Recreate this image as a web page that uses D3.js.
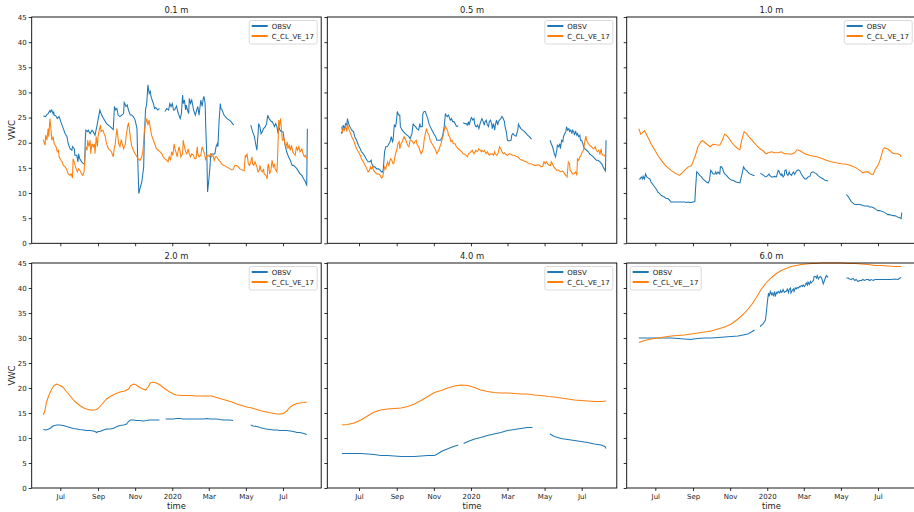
<!DOCTYPE html>
<meta charset="utf-8">
<script src="https://cdn.jsdelivr.net/npm/d3@7"></script>
<style>
  body { margin: 0; background: #fff; }
  svg { display: block; font-family: "DejaVu Sans", sans-serif; }
</style>
<div id="chart"></div>
<script>

// panel titles (depths) and legend labels
var depths = ["0.1 m", "0.5 m", "1.0 m", "2.0 m", "4.0 m", "6.0 m"];
var obsLabel = "OBSV";
var modelLabels = ["C_CL_VE_17", "C_CL_VE_17", "C_CL_VE_17", "C_CL_VE_17", "C_CL_VE_17", "C_CL_VE__17"];
var yTicks = [0, 5, 10, 15, 20, 25, 30, 35, 40, 45];

// series are [day since 2019-06-01, VWC]; null marks a gap in the record
var day0 = "2019-06-01";

var obs01 = [[2,25.3],[6,25.2],[8,25.6],[10,25.8],[13,26.4],[14,26.1],[16,26.5],[18,25.8],[19,26.2],[20,25.5],[23,25.3],[25,24.8],[28,25.2],[30,24.5],[32,23.8],[35,22.8],[38,21.8],[41,21.2],[43,19.8],[46,18.8],[49,18.5],[50,19.2],[53,18.8],[54,17.5],[57,17.5],[59,16.2],[60,17.8],[62,16.8],[65,16.2],[68,15.8],[70,15.8],[71,20.5],[72,22.5],[75,22.2],[76,22.5],[79,21.8],[82,22.5],[84,22.2],[87,21.5],[90,23.2],[93,25.2],[95,26.5],[98,25.5],[101,24.8],[106,23.8],[112,23.2],[117,22.6],[119,27.2],[121,26.5],[123,26.8],[125,25.5],[128,25.2],[131,25.5],[134,25.8],[135,28.0],[136,27.8],[138,27.2],[140,27.5],[142,26.5],[145,25.5],[147,25.5],[150,25.2],[153,24.5],[156,22.8],[157,17.8],[159,9.9],[161,10.9],[164,12.2],[167,15.2],[168,20.5],[170,26.5],[172,27.8],[174,31.5],[176,29.8],[178,30.2],[179,29.2],[181,28.5],[183,27.8],[185,26.8],[187,27.0],[190,26.5],[193,26.8],[197,null],[202,26.2],[205,26.8],[208,26.5],[210,27.8],[212,27.2],[214,27.8],[216,26.5],[218,26.5],[219,26.8],[221,27.3],[223,26.2],[225,25.5],[227,24.8],[229,25.8],[231,29.5],[232,27.8],[234,28.5],[236,26.5],[237,27.5],[239,26.5],[241,25.8],[242,28.8],[244,27.8],[246,28.5],[248,27.2],[249,26.5],[252,25.5],[254,26.5],[256,27.2],[258,25.5],[259,26.5],[261,28.5],[263,27.2],[265,28.8],[266,29.2],[268,27.8],[269,23.2],[271,16.5],[272,10.2],[274,12.5],[276,15.2],[277,17.2],[279,17.8],[282,17.7],[284,17.8],[286,19.2],[288,19.8],[289,19.2],[291,24.5],[293,27.8],[294,26.8],[296,26.5],[299,25.5],[304,24.8],[309,24.4],[315,23.5],[330,null],[343,23.5],[346,22.2],[349,21.2],[351,19.8],[353,18.5],[355,21.8],[356,23.8],[358,23.2],[360,21.8],[362,22.2],[364,22.8],[367,23.2],[369,23.8],[371,25.5],[373,24.8],[375,24.5],[377,24.2],[378,24.2],[380,23.8],[382,23.2],[384,23.8],[386,23.2],[388,21.8],[389,23.2],[391,22.5],[393,22.2],[396,22.2],[398,20.5],[400,19.2],[402,18.2],[405,17.2],[408,16.5],[411,15.5],[413,15.5],[416,15.2],[419,14.8],[422,14.2],[424,13.8],[427,13.5],[430,12.8],[433,12.2],[434,11.8],[435,11.6],[436,22.8]];
var mod01 = [[2,20.6],[5,19.5],[6,21.5],[8,20.5],[10,22.8],[11,21.2],[13,24.8],[15,22.2],[16,20.5],[18,21.2],[20,19.8],[23,19.2],[25,18.2],[27,18.5],[28,17.2],[31,16.5],[33,16.2],[35,15.5],[38,15.2],[40,14.8],[43,13.8],[46,13.5],[48,13.8],[50,13.0],[51,16.8],[52,16.5],[55,15.2],[57,14.5],[58,14.2],[60,14.8],[62,14.5],[65,13.8],[67,13.5],[69,14.2],[71,17.8],[72,19.2],[74,18.5],[75,20.5],[77,19.2],[79,20.5],[80,17.8],[82,19.8],[84,19.2],[86,19.8],[87,17.8],[89,21.2],[91,19.2],[92,21.2],[94,22.5],[96,23.5],[97,22.2],[100,22.5],[102,21.8],[104,21.2],[106,19.8],[109,18.8],[112,18.5],[114,18.2],[117,17.2],[119,19.2],[120,19.5],[123,22.8],[124,21.8],[126,19.8],[128,19.2],[130,20.5],[131,20.2],[134,18.8],[135,19.2],[137,19.7],[138,21.2],[141,23.5],[142,23.8],[143,23.2],[145,21.2],[147,19.5],[150,18.5],[153,17.8],[156,17.2],[158,16.8],[161,16.5],[164,17.2],[166,18.5],[168,22.2],[170,23.8],[172,24.8],[174,23.5],[176,24.5],[178,22.8],[180,21.5],[183,20.5],[186,19.5],[188,18.8],[191,18.5],[194,18.2],[197,17.8],[199,17.2],[202,16.8],[205,16.5],[207,16.2],[209,17.2],[211,16.5],[213,18.2],[215,17.5],[217,19.8],[219,18.5],[221,17.8],[222,17.2],[225,19.2],[227,18.2],[228,17.2],[231,17.8],[232,20.5],[234,19.2],[236,18.2],[238,17.8],[240,18.8],[242,17.8],[244,17.2],[246,17.8],[249,17.5],[251,16.8],[253,16.8],[255,19.2],[256,17.8],[258,17.2],[261,17.5],[263,19.2],[265,18.5],[267,17.8],[269,16.5],[270,17.2],[273,17.5],[275,17.2],[277,17.8],[279,17.2],[281,17.5],[283,16.5],[285,17.2],[287,17.2],[290,16.6],[293,16.2],[295,15.8],[298,15.5],[301,15.4],[303,15.2],[306,15.0],[309,14.8],[312,14.6],[314,14.7],[317,15.5],[320,15.4],[323,15.2],[325,14.8],[329,14.6],[332,14.4],[334,17.5],[335,17.2],[337,17.7],[339,15.8],[341,15.5],[343,16.2],[345,17.2],[346,15.8],[348,15.5],[350,16.2],[353,15.2],[355,14.2],[357,14.5],[358,15.5],[360,14.5],[362,14.2],[364,14.8],[365,13.8],[368,13.5],[370,12.8],[371,15.2],[372,15.8],[374,13.8],[376,14.5],[378,16.5],[380,15.2],[382,15.8],[383,14.8],[386,14.2],[387,16.8],[389,24.5],[390,23.2],[392,24.8],[394,21.8],[395,20.5],[398,20.8],[399,19.8],[401,19.2],[403,20.2],[404,18.8],[406,19.5],[408,18.5],[410,19.5],[412,18.2],[414,17.8],[416,17.5],[418,19.2],[420,18.5],[422,19.2],[424,18.2],[427,18.8],[429,17.8],[431,17.2],[433,17.5],[435,16.8]];

var obs05 = [[1,22.2],[2,21.8],[4,23.5],[6,22.8],[8,23.8],[10,23.5],[11,24.8],[13,23.8],[15,23.2],[18,22.5],[21,22.2],[23,21.2],[26,20.5],[29,19.5],[32,18.8],[34,18.2],[37,17.8],[40,17.2],[43,16.5],[45,16.2],[48,16.2],[50,16.5],[51,15.8],[54,15.2],[56,15.2],[59,14.8],[62,14.8],[65,14.5],[67,14.2],[69,14.2],[70,14.8],[72,18.2],[74,19.2],[76,19.2],[78,19.5],[81,20.2],[83,21.2],[85,20.2],[86,20.5],[88,23.5],[90,23.2],[91,23.8],[93,26.2],[95,25.5],[97,25.5],[98,23.2],[101,22.5],[103,22.2],[106,21.8],[109,21.5],[112,21.2],[114,20.8],[117,21.8],[119,23.8],[120,23.5],[123,23.2],[125,22.8],[128,22.5],[130,23.8],[131,23.2],[134,23.2],[135,25.8],[137,26.2],[139,26.2],[141,25.5],[143,24.8],[145,23.8],[147,23.2],[150,22.5],[153,21.8],[156,21.2],[158,20.5],[161,20.5],[164,20.5],[167,21.2],[168,21.8],[170,23.2],[172,25.8],[173,25.5],[175,25.2],[177,25.5],[178,25.2],[180,24.5],[182,24.8],[184,24.2],[186,24.2],[188,23.8],[190,23.3],[193,23.3],[197,null],[201,24.0],[204,23.8],[206,23.8],[208,23.5],[210,24.2],[211,23.5],[214,24.8],[215,25.0],[217,24.5],[219,24.8],[220,23.8],[222,23.2],[223,23.2],[225,23.5],[227,22.8],[229,23.8],[231,24.5],[232,24.8],[234,24.2],[236,23.5],[237,24.2],[239,24.5],[241,23.5],[243,23.2],[244,24.2],[246,24.5],[248,23.8],[249,22.8],[251,23.8],[253,22.5],[254,23.5],[256,24.5],[258,23.5],[259,24.2],[261,24.5],[263,24.8],[265,25.2],[267,24.8],[269,24.2],[270,23.2],[272,22.2],[274,20.5],[275,20.4],[278,20.4],[280,20.5],[281,21.5],[283,21.8],[285,21.5],[288,21.3],[291,22.5],[292,23.7],[294,23.2],[296,22.8],[299,22.5],[302,22.2],[305,21.8],[307,21.5],[310,21.2],[313,20.8],[314,20.8],[330,null],[344,20.5],[346,19.8],[348,19.2],[349,18.8],[351,17.8],[353,17.2],[355,18.5],[356,19.5],[358,19.2],[360,19.8],[361,18.8],[363,20.5],[365,20.2],[366,21.2],[368,21.8],[370,22.2],[371,23.2],[373,22.5],[375,22.8],[376,22.2],[378,22.5],[380,21.8],[381,22.5],[383,22.2],[384,21.5],[386,22.2],[388,21.5],[389,21.8],[391,21.2],[393,21.5],[394,20.5],[396,20.5],[398,19.8],[399,19.2],[401,18.8],[404,18.5],[407,18.2],[409,17.8],[412,17.5],[415,17.2],[418,16.8],[420,16.5],[423,16.5],[426,16.2],[429,15.8],[431,15.2],[433,14.8],[435,14.4],[436,20.5]];
var mod05 = [[1,23.2],[3,22.2],[5,22.8],[6,22.5],[8,23.2],[10,22.2],[11,23.8],[13,22.8],[15,22.2],[18,21.2],[21,20.5],[23,19.8],[26,18.8],[29,18.2],[32,17.5],[34,16.8],[37,16.2],[40,15.5],[43,14.8],[45,14.2],[47,14.5],[49,15.2],[50,14.8],[52,15.2],[54,14.5],[56,14.2],[59,13.8],[62,13.8],[65,13.5],[67,13.0],[69,13.2],[71,14.5],[72,15.2],[74,14.8],[76,15.8],[77,16.2],[79,15.5],[81,16.5],[82,16.8],[84,16.5],[86,15.8],[87,15.8],[89,17.2],[91,18.2],[92,18.5],[94,19.8],[96,20.2],[97,18.8],[99,19.8],[101,20.2],[102,20.5],[104,21.2],[107,20.5],[109,19.8],[110,19.5],[112,19.2],[114,20.5],[116,20.5],[118,20.2],[120,19.8],[122,20.2],[124,20.5],[125,19.8],[128,19.2],[130,18.5],[132,17.8],[134,18.2],[136,19.2],[137,20.5],[139,21.8],[141,22.8],[142,22.2],[145,21.5],[147,20.5],[150,19.8],[153,19.2],[156,18.5],[158,17.8],[161,18.5],[163,19.2],[165,19.8],[166,20.5],[168,21.2],[170,22.5],[172,23.3],[174,22.8],[176,22.2],[177,21.5],[179,21.2],[181,20.2],[183,20.5],[185,19.8],[188,19.8],[190,19.2],[193,18.8],[196,18.5],[199,18.2],[201,17.8],[204,17.7],[206,17.5],[208,17.2],[210,17.8],[212,18.0],[214,18.2],[216,18.5],[217,18.2],[219,17.8],[221,18.2],[222,18.5],[224,18.2],[226,18.5],[227,18.8],[229,18.5],[231,18.2],[232,18.5],[234,18.2],[236,18.5],[237,18.2],[239,17.8],[241,18.2],[243,17.7],[244,17.5],[246,17.8],[248,17.7],[249,17.8],[251,17.5],[253,18.2],[254,17.8],[256,17.5],[258,17.7],[259,18.2],[261,19.2],[263,18.8],[265,18.2],[267,17.8],[269,18.0],[271,17.7],[274,17.5],[277,17.8],[280,17.7],[282,17.5],[285,17.5],[288,17.3],[291,17.2],[294,16.8],[296,16.6],[299,16.5],[302,16.3],[305,16.2],[307,16.0],[310,15.8],[313,15.8],[316,15.6],[318,15.5],[321,15.5],[324,15.6],[327,15.5],[329,15.2],[332,15.3],[334,16.2],[336,15.8],[338,16.2],[340,15.8],[343,15.5],[345,15.5],[346,16.2],[348,15.8],[350,15.2],[353,14.8],[355,14.5],[357,14.6],[359,14.4],[361,14.2],[364,14.4],[366,14.2],[368,13.8],[370,13.5],[372,13.2],[374,16.2],[376,15.8],[377,14.5],[379,14.2],[381,13.8],[383,13.8],[386,14.2],[388,13.5],[389,16.8],[391,16.5],[393,17.2],[394,17.2],[397,18.2],[399,18.5],[401,20.2],[403,21.3],[404,20.5],[407,19.8],[409,19.5],[412,19.2],[415,18.8],[416,18.8],[418,19.2],[420,18.5],[422,18.2],[424,18.5],[426,17.8],[428,18.8],[429,17.8],[431,17.5],[433,17.5],[435,17.2]];

var obs10 = [[3,12.8],[5,12.8],[7,13.2],[9,12.8],[10,13.3],[12,12.8],[14,13.8],[16,13.2],[18,13.0],[21,12.8],[23,12.2],[26,11.7],[29,11.2],[32,10.7],[34,10.2],[37,9.9],[40,9.5],[43,9.3],[45,9.2],[48,8.9],[51,8.9],[54,8.5],[56,8.2],[59,8.2],[62,8.2],[65,8.2],[67,8.2],[70,8.2],[73,8.2],[75,8.2],[78,8.2],[81,8.1],[84,8.2],[86,8.1],[89,8.1],[92,8.2],[95,8.3],[96,10.5],[98,14.2],[100,14.0],[103,13.5],[106,13.2],[108,12.8],[111,12.5],[114,12.2],[117,12.0],[119,12.5],[121,14.5],[123,14.2],[125,13.8],[128,13.8],[129,14.2],[131,13.8],[133,14.2],[136,13.8],[137,15.2],[139,15.2],[141,14.8],[142,14.2],[144,13.8],[147,13.5],[149,13.2],[152,12.8],[155,12.6],[158,12.5],[160,12.4],[163,12.2],[166,12.1],[169,12.0],[170,12.5],[172,13.5],[175,15.2],[177,14.8],[178,14.6],[180,14.5],[182,14.2],[185,13.8],[188,13.7],[191,13.5],[193,13.5],[198,null],[203,14.0],[204,13.8],[207,13.6],[210,13.3],[212,13.2],[215,13.5],[217,13.8],[218,13.5],[221,13.2],[223,13.2],[226,13.3],[229,13.2],[232,14.5],[233,14.4],[235,13.8],[237,13.5],[238,13.8],[240,13.2],[242,13.5],[243,14.5],[245,14.6],[246,13.8],[248,13.5],[250,14.2],[251,13.8],[254,13.5],[255,13.8],[257,14.2],[259,13.7],[262,14.4],[265,14.6],[267,14.5],[270,13.8],[273,13.2],[276,12.8],[278,12.8],[281,13.2],[284,13.3],[286,14.0],[289,14.2],[292,14.0],[295,13.8],[297,13.5],[300,13.2],[303,13.0],[306,12.8],[308,12.6],[311,12.5],[314,12.4],[330,null],[344,9.7],[347,9.3],[349,8.9],[352,8.3],[355,8.0],[358,7.7],[360,7.7],[363,7.7],[366,7.7],[369,7.6],[371,7.5],[374,7.4],[377,7.4],[380,7.4],[382,7.2],[385,7.2],[388,7.1],[391,6.9],[393,6.7],[396,6.5],[399,6.5],[401,6.4],[404,6.3],[407,6.1],[410,5.9],[412,5.7],[415,5.7],[418,5.6],[421,5.5],[423,5.5],[426,5.4],[429,5.2],[432,5.1],[434,4.9],[435,6.1]];
var mod10 = [[3,22.8],[6,21.7],[9,22.0],[12,22.4],[15,21.8],[19,20.8],[23,19.8],[29,18.6],[34,17.5],[40,16.5],[45,15.7],[51,15.0],[56,14.5],[62,14.0],[66,13.7],[70,13.5],[74,14.0],[78,14.5],[84,15.2],[89,15.4],[92,16.2],[96,17.5],[100,19.2],[105,20.2],[108,20.4],[112,20.0],[117,19.5],[120,19.2],[125,19.7],[130,19.6],[136,19.5],[140,20.5],[144,21.7],[149,21.2],[155,20.2],[160,19.4],[166,18.8],[169,18.6],[172,20.5],[176,22.2],[180,21.8],[185,21.0],[191,20.2],[196,19.5],[202,18.8],[207,18.4],[212,17.8],[216,18.0],[221,18.2],[226,18.0],[232,18.0],[237,18.2],[242,17.8],[248,17.8],[254,17.7],[259,18.0],[263,18.6],[268,18.4],[273,18.0],[278,17.7],[286,17.4],[295,17.2],[303,16.9],[311,16.5],[319,16.2],[327,16.0],[336,15.8],[344,15.7],[352,15.4],[360,15.0],[366,14.5],[371,14.0],[375,14.2],[380,14.2],[384,13.8],[388,13.7],[392,14.8],[396,15.5],[400,16.8],[404,18.6],[407,19.0],[411,18.8],[415,18.5],[419,18.0],[423,17.8],[428,17.8],[432,17.6],[434,17.2]];

var obs20 = [[2,11.7],[7,11.6],[13,11.9],[18,12.4],[24,12.6],[29,12.6],[35,12.5],[40,12.3],[46,12.1],[51,11.9],[57,11.8],[62,11.7],[68,11.6],[73,11.5],[79,11.5],[84,11.4],[87,11.3],[90,11.1],[92,11.3],[95,11.3],[101,11.6],[106,11.8],[112,11.8],[117,11.9],[123,12.3],[128,12.5],[134,12.6],[139,12.8],[142,13.3],[145,13.6],[150,13.6],[155,13.5],[161,13.5],[166,13.4],[172,13.5],[177,13.6],[183,13.6],[188,13.6],[193,13.6],[198,null],[203,13.8],[210,13.8],[216,13.8],[221,13.9],[227,13.9],[232,13.8],[238,13.8],[243,13.8],[249,13.8],[254,13.8],[260,13.8],[265,13.8],[271,13.9],[276,13.8],[281,13.8],[287,13.8],[292,13.7],[298,13.6],[303,13.6],[309,13.6],[314,13.5],[330,null],[343,12.6],[347,12.4],[353,12.3],[358,12.1],[364,11.9],[369,11.8],[375,11.7],[380,11.6],[386,11.6],[391,11.5],[397,11.5],[402,11.5],[408,11.4],[413,11.3],[419,11.1],[424,11.1],[430,10.9],[435,10.7]];
var mod20 = [[2,14.6],[5,15.6],[7,17.0],[11,18.5],[16,19.8],[20,20.5],[24,20.8],[28,20.6],[34,20.2],[40,19.3],[47,18.3],[54,17.3],[62,16.5],[70,15.9],[79,15.6],[87,15.6],[91,15.8],[96,16.4],[101,17.1],[106,17.8],[112,18.3],[120,18.8],[128,19.2],[136,19.4],[142,19.8],[146,20.5],[151,20.8],[155,20.6],[161,20.1],[166,19.8],[170,19.6],[175,20.3],[178,21.0],[183,21.2],[188,21.0],[194,20.6],[199,20.1],[205,19.6],[210,19.2],[216,18.8],[221,18.6],[229,18.5],[238,18.5],[246,18.5],[254,18.4],[262,18.4],[271,18.4],[279,18.4],[287,18.1],[295,17.8],[304,17.5],[312,17.2],[320,16.8],[328,16.5],[336,16.2],[345,16.0],[353,15.7],[361,15.4],[369,15.2],[377,15.0],[386,14.8],[394,14.8],[398,15.0],[402,15.4],[408,16.2],[413,16.6],[419,16.9],[424,17.0],[430,17.1],[435,17.2]];

var obs40 = [[2,6.9],[11,6.9],[22,6.9],[33,6.9],[44,6.8],[55,6.7],[66,6.5],[77,6.5],[88,6.4],[99,6.3],[110,6.3],[121,6.3],[132,6.4],[143,6.5],[154,6.5],[159,6.8],[165,7.3],[173,7.7],[181,8.1],[193,8.6],[197,null],[202,8.9],[209,9.3],[220,9.8],[230,10.1],[241,10.5],[252,10.8],[263,11.1],[274,11.5],[285,11.7],[296,11.9],[307,12.1],[315,12.1],[330,null],[344,10.8],[351,10.3],[362,9.9],[373,9.7],[384,9.5],[395,9.3],[406,9.1],[417,8.8],[428,8.6],[434,8.3],[436,7.9]];
var mod40 = [[2,12.6],[11,12.7],[22,13.0],[33,13.6],[44,14.4],[55,15.2],[66,15.6],[77,15.8],[88,15.9],[99,16.0],[110,16.3],[121,16.8],[132,17.5],[143,18.3],[154,19.1],[165,19.5],[176,20.0],[187,20.4],[198,20.6],[209,20.5],[220,20.1],[230,19.6],[241,19.3],[252,19.1],[263,19.0],[274,19.0],[285,18.9],[296,18.8],[307,18.8],[318,18.6],[329,18.5],[341,18.3],[351,18.2],[362,18.0],[373,17.8],[384,17.6],[395,17.5],[406,17.4],[417,17.3],[428,17.3],[436,17.4]];

var obs60 = [[3,30.0],[12,30.0],[23,30.0],[34,30.0],[45,30.0],[56,30.0],[67,29.9],[78,29.8],[89,29.7],[92,29.8],[100,29.9],[111,30.0],[122,30.0],[133,30.1],[144,30.2],[155,30.3],[166,30.4],[174,30.6],[182,30.8],[188,31.2],[193,31.6],[197,null],[202,32.3],[207,32.8],[211,33.6],[212,34.6],[214,37.0],[216,39.0],[217,38.3],[219,39.3],[221,38.7],[222,39.0],[224,38.5],[226,39.3],[227,38.3],[229,39.1],[230,38.9],[232,39.3],[234,39.0],[236,39.5],[237,39.1],[239,39.3],[240,39.7],[242,39.1],[244,39.3],[245,39.3],[247,39.8],[249,39.1],[250,39.7],[252,40.0],[253,39.0],[255,39.5],[257,39.8],[258,39.3],[260,40.0],[262,39.8],[263,40.1],[265,40.0],[267,40.3],[268,40.2],[270,40.5],[272,40.3],[273,40.6],[275,40.3],[277,40.7],[278,41.0],[280,40.6],[281,41.2],[283,40.7],[285,41.3],[286,41.0],[288,41.3],[290,41.5],[291,42.3],[293,42.3],[295,42.0],[296,42.5],[298,41.8],[300,42.2],[301,42.3],[303,42.1],[305,41.3],[306,40.8],[308,41.5],[310,42.2],[311,42.5],[313,42.2],[314,42.3],[330,null],[344,42.0],[347,42.0],[349,41.8],[352,41.7],[355,41.9],[358,41.5],[360,41.7],[363,41.3],[366,41.5],[369,41.5],[371,41.7],[374,41.5],[377,41.7],[380,41.7],[382,41.5],[385,41.7],[388,41.5],[391,41.7],[396,41.7],[401,41.7],[407,41.7],[412,41.7],[418,41.7],[423,41.8],[429,41.7],[432,42.0],[434,42.1]];
var mod60 = [[3,29.1],[12,29.5],[23,29.8],[34,30.0],[45,30.2],[56,30.4],[67,30.5],[78,30.6],[89,30.8],[100,31.0],[111,31.2],[122,31.4],[133,31.8],[144,32.2],[155,32.8],[166,33.8],[177,35.0],[188,36.6],[196,38.1],[204,39.7],[212,41.0],[221,42.1],[229,42.9],[237,43.5],[245,43.9],[253,44.3],[262,44.5],[270,44.7],[278,44.8],[286,44.9],[295,44.9],[303,45.0],[314,45.0],[325,45.0],[336,45.0],[347,44.9],[358,44.9],[369,44.8],[380,44.7],[391,44.5],[401,44.5],[412,44.4],[423,44.3],[434,44.3]];

var observed = [obs01, obs05, obs10, obs20, obs40, obs60];
var modelled = [mod01, mod05, mod10, mod20, mod40, mod60];

// layout of the 2 x 3 grid
var W = 914, H = 512;
var colLeft = [31.7, 327.3, 626.7], colShift = [0, 3.1, 0], panelW = 289.5;
var rowTop = [17, 263], rowH = [226.3, 225];
var pxPerDay = 0.6085;
var blue = "#1f77b4", orange = "#ff7f0e";

var svg = d3.select("#chart").append("svg")
    .attr("width", W)
    .attr("height", H);

var start = d3.timeParse("%Y-%m-%d")(day0);
function toDate(d) { return d3.timeDay.offset(start, d); }

var monthFmt = d3.timeFormat("%b"), yearFmt = d3.timeFormat("%Y");
var xMin = new Date(2019, 4, 15), xMax = new Date(2020, 7, 31);
var xSpan = d3.timeDay.count(xMin, xMax) * pxPerDay;

depths.forEach(function(title, i) {
  var r = Math.floor(i / 3), c = i % 3;
  var left = colLeft[c], top = rowTop[r], h = rowH[r];

  var x = d3.scaleTime()
    .domain([xMin, xMax])
    .range([left + colShift[c], left + colShift[c] + xSpan]);
  var y = d3.scaleLinear().domain([0, 45]).range([top + h, top]);

  var g = svg.append("g");

  // lines
  var line = d3.line()
    .defined(function(d) { return d[1] !== null; })
    .x(function(d) { return x(toDate(d[0])); })
    .y(function(d) { return y(d[1]); });

  g.append("path").datum(observed[i])
    .attr("d", line).attr("fill", "none")
    .attr("stroke", blue).attr("stroke-width", 1.05);
  g.append("path").datum(modelled[i])
    .attr("d", line).attr("fill", "none")
    .attr("stroke", orange).attr("stroke-width", 1.05);

  // y axis
  var ya = g.append("g")
    .attr("transform", "translate(" + left + ",0)")
    .call(d3.axisLeft(y).tickValues(yTicks).tickSize(3).tickPadding(2)
      .tickFormat(c === 0 ? d3.format("d") : function() { return ""; }));
  // x axis
  var xa = g.append("g")
    .attr("transform", "translate(0," + (top + h) + ")")
    .call(d3.axisBottom(x).ticks(d3.timeMonth.every(2)).tickSize(3).tickPadding(3)
      .tickFormat(function(d) {
        if (r === 0) return "";
        return d.getMonth() === 0 ? yearFmt(d) : monthFmt(d);
      }));
  [ya, xa].forEach(function(a) {
    a.select(".domain").remove();
    a.selectAll("line").attr("stroke", "#000").attr("stroke-width", 0.8);
    a.selectAll("text").attr("fill", "#222").style("font-size", "7px")
      .style("font-family", "DejaVu Sans, sans-serif");
  });

  // frame
  g.append("rect")
    .attr("x", left).attr("y", top)
    .attr("width", panelW).attr("height", h)
    .attr("fill", "none").attr("stroke", "#000").attr("stroke-width", 0.9);

  // title
  g.append("text")
    .attr("x", left + panelW / 2).attr("y", top - 4)
    .attr("text-anchor", "middle")
    .style("font-size", "8.4px").attr("fill", "#222")
    .text(title);

  // legend
  var lw = i === 5 ? 71 : 68;
  var lx = i === 5 ? left + 3.5 : left + panelW - lw - 4;
  var ly = top + 3.5;
  var lg = g.append("g").attr("transform", "translate(" + lx + "," + ly + ")");
  lg.append("rect").attr("width", lw).attr("height", 23.5).attr("rx", 2)
    .attr("fill", "#fff").attr("fill-opacity", 0.8)
    .attr("stroke", "#d0d0d0").attr("stroke-width", 0.8);
  [[obsLabel, blue], [modelLabels[i], orange]].forEach(function(e, k) {
    lg.append("line").attr("x1", 2.5).attr("x2", 18.5)
      .attr("y1", 5.5 + k * 10).attr("y2", 5.5 + k * 10)
      .attr("stroke", e[1]).attr("stroke-width", 2);
    lg.append("text").attr("x", 22.5).attr("y", 8 + k * 10)
      .style("font-size", "7px").attr("fill", "#222").text(e[0]);
  });

  // axis labels
  if (r === 1) {
    g.append("text")
      .attr("x", left + panelW / 2).attr("y", 509)
      .attr("text-anchor", "middle")
      .style("font-size", "8.4px").attr("fill", "#222")
      .text("time");
  }
  if (c === 0) {
    g.append("text")
      .attr("transform", "translate(15," + (top + h / 2) + ")rotate(-90)")
      .attr("text-anchor", "middle")
      .style("font-size", "8.4px").attr("fill", "#222")
      .text("VWC");
  }
});

</script>
